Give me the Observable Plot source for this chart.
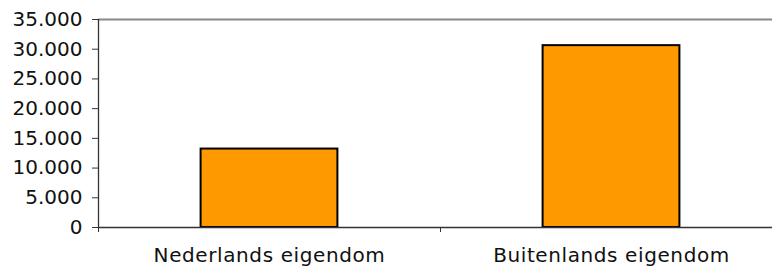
<!DOCTYPE html>
<html>
<head>
<meta charset="utf-8">
<script src="https://cdn.jsdelivr.net/npm/d3@7"></script>
<script src="https://cdn.jsdelivr.net/npm/@observablehq/plot@0.6"></script>
<style>
  html, body { margin: 0; padding: 0; background: #fff; overflow: hidden; }
  svg { font-family: "DejaVu Sans", Verdana, sans-serif; }
  g[aria-label="x-axis tick label"] text { letter-spacing: 0.6px; }
</style>
</head>
<body>
<div id="chart"></div>
<script>
const categories = ["Nederlands eigendom", "Buitenlands eigendom"];
const values = [13200, 30600];
const yTicks = [0, 5000, 10000, 15000, 20000, 25000, 30000, 35000];

const data = categories.map((c, i) => ({category: c, index: i, value: values[i]}));
const nl = d3.formatLocale({decimal: ",", thousands: ".", grouping: [3], currency: ["€", ""]});
const fmt = nl.format(",");

const chart = Plot.plot({
  width: 772,
  height: 268,
  marginLeft: 98,
  marginRight: -10,
  marginTop: 19,
  marginBottom: 41,
  style: {fontSize: "20px", color: "#111", background: "#fff", overflow: "visible"},
  x: {type: "linear", domain: [0, categories.length]},
  y: {domain: [0, 35000]},
  marks: [
    Plot.ruleY([35000], {stroke: "#888", strokeWidth: 2}),
    Plot.rectY(data, {
      x1: d => d.index + 0.3,
      x2: d => d.index + 0.7,
      y: "value",
      fill: "#FF9900",
      stroke: "#000",
      strokeWidth: 2
    }),
    Plot.ruleY([0], {stroke: "#333", strokeWidth: 1.3}),
    Plot.ruleX([0], {stroke: "#333", strokeWidth: 1.3}),
    Plot.axisY({ticks: yTicks, tickFormat: fmt, tickSize: 6, tickPadding: 10, stroke: "#333", label: null, fill: "#111"}),
    Plot.axisX({ticks: d3.range(categories.length + 1), tickSize: 5, tickFormat: () => "", stroke: "#333", label: null}),
    Plot.axisX({ticks: categories.map((c, i) => i + 0.5), tickSize: 0, tickPadding: 20, tickFormat: v => categories[Math.floor(v)], label: null, fill: "#111"})
  ]
});
document.getElementById("chart").appendChild(chart);
</script>
</body>
</html>
